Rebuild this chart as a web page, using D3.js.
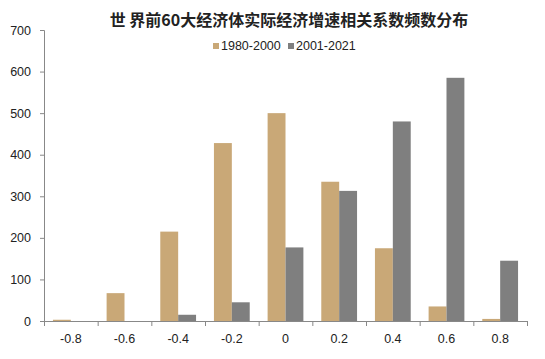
<!DOCTYPE html>
<html><head><meta charset="utf-8">
<script src="https://cdn.jsdelivr.net/npm/d3@7"></script>
<style>body{margin:0;background:#fff;}svg{display:block;font-family:"Liberation Sans",Arial,sans-serif;}</style>
</head><body><svg id="c" width="545" height="359"></svg>
<script>
const categories = ["-0.8","-0.6","-0.4","-0.2","0","0.2","0.4","0.6","0.8"];
const series1980 = [3, 67, 215, 428, 500, 335, 175, 35, 5];
const series2001 = [0, 0, 15, 45, 177, 313, 480, 585, 145];
const seriesNames = ["1980-2000", "2001-2021"];
const yTicks = [0,100,200,300,400,500,600,700];
const title = "世 界前60大经济体实际经济增速相关系数频数分布";
const colors = ["#C9A877", "#7F7F7F"];

const svg = d3.select("#c");
const m = {l:44, r:18, t:30, b:38};
const x = d3.scaleBand().domain(categories).range([m.l, 527]).paddingInner(1/3).paddingOuter(1/6);
const xOuter = d3.scaleBand().domain(categories).range([m.l, 527]);
const y = d3.scaleLinear().domain([0,700]).range([321, 30]);
const xs = d3.scaleBand().domain([0,1]).range([0, x.bandwidth()]);

const data = categories.map((c,i)=>({c, v:[series1980[i], series2001[i]]}));
const g = svg.append("g");
g.selectAll("g.cat").data(data).join("g").attr("class","cat")
  .attr("transform", d=>`translate(${x(d.c)},0)`)
  .selectAll("rect").data(d=>d.v.map((v,k)=>({v,k}))).join("rect")
  .attr("x", d=>xs(d.k)).attr("width", xs.bandwidth())
  .attr("y", d=>y(d.v)).attr("height", d=>y(0)-y(d.v))
  .attr("fill", d=>colors[d.k]);

// y axis
const ya = svg.append("g").attr("transform",`translate(${m.l},0)`)
  .call(d3.axisLeft(y).tickValues(yTicks).tickSize(4).tickPadding(9));
ya.select(".domain").attr("stroke","#888");
ya.selectAll(".tick line").attr("stroke","#888");
ya.selectAll("text").attr("font-size","12.5px").attr("fill","#222");

// x axis line and ticks at boundaries
svg.append("line").attr("x1",m.l-4).attr("x2",527).attr("y1",y(0)+0.5).attr("y2",y(0)+0.5).attr("stroke","#888");
const bounds = categories.map(c=>xOuter(c)).concat([527]);
svg.selectAll("line.xt").data(bounds).join("line").attr("class","xt")
  .attr("x1",d=>d+0.5).attr("x2",d=>d+0.5).attr("y1",y(0)).attr("y2",y(0)+5).attr("stroke","#888");
svg.selectAll("text.xl").data(categories).join("text").attr("class","xl")
  .attr("x", c=>xOuter(c)+xOuter.bandwidth()/2).attr("y", 343)
  .attr("text-anchor","middle").attr("font-size","12.5px").attr("fill","#222").text(c=>c);

// title
svg.append("text").attr("x",289).attr("y",26).attr("text-anchor","middle")
  .attr("font-size","16px").attr("font-weight","bold").attr("fill","#222")
  .attr("font-family","'Noto Sans CJK SC',sans-serif").text(title);

// legend
const legX = [213, 288];
const lg = svg.selectAll("g.leg").data(seriesNames).join("g").attr("class","leg")
  .attr("transform",(d,i)=>`translate(${legX[i]},50)`);
lg.append("rect").attr("x",0).attr("y",-7).attr("width",6).attr("height",6).attr("fill",(d,i)=>colors[i]);
lg.append("text").attr("x",8).attr("y",0).attr("font-size","12.5px").attr("fill","#222").text(d=>d);
</script></body></html>
